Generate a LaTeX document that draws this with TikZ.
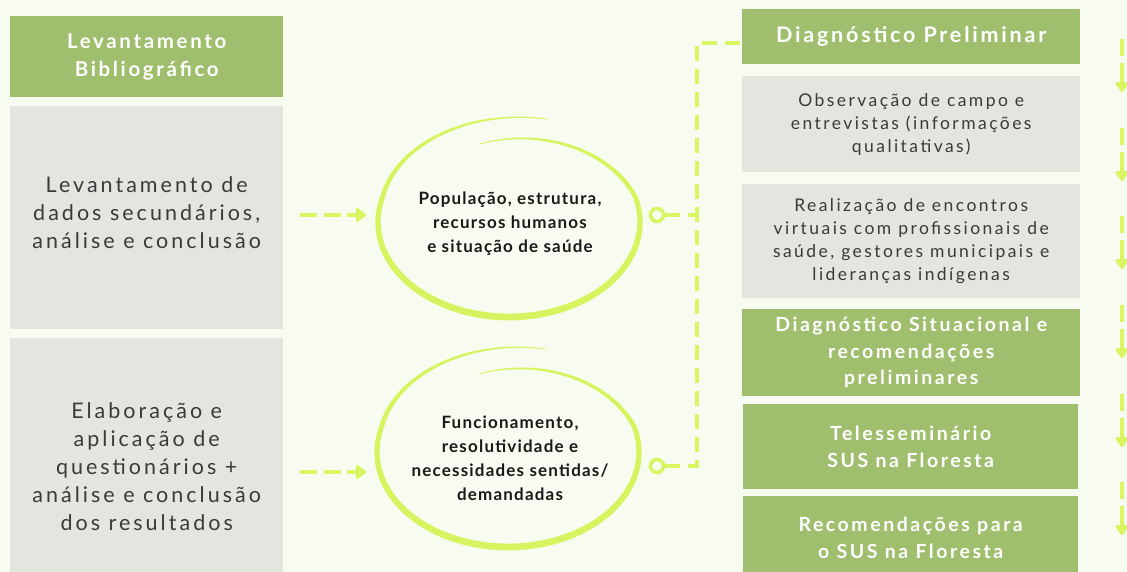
\documentclass[tikz,border=0pt]{standalone}
\usepackage{fontspec}
\setmainfont{Lato}
\newfontfamily\graytxt[LetterSpace=14]{Lato}
\newfontfamily\greentxt[LetterSpace=13]{Lato}
\newfontfamily\circtxt[LetterSpace=7]{Lato}
\usetikzlibrary{arrows.meta}
\definecolor{bgc}{RGB}{248,252,240}
\definecolor{greenc}{RGB}{160,191,110}
\definecolor{grayc}{RGB}{226,230,222}
\definecolor{limec}{RGB}{217,245,98}
\definecolor{loopc}{RGB}{214,244,96}
\definecolor{txtgray}{RGB}{58,58,58}
\definecolor{txtdark}{RGB}{25,25,25}
\tikzset{
  declare function={sf(\t)=1-0.15*max(0,1-\t/90)+0.12*max(0,(\t-300)/90); wf(\t)=0.8+6*sin(0.4615*\t);},
  greenbox/.style={fill=greenc, inner sep=0pt, align=center, anchor=north west, text=white},
  graybox/.style={fill=grayc, inner sep=0pt, align=center, anchor=north west, text=txtgray},
  lefttxt/.style={font={\graytxt\fontsize{21.5}{28}\selectfont}},
  righttxt/.style={font={\graytxt\fontsize{17.5}{23}\selectfont}},
  gtitle/.style={font={\greentxt\bfseries\fontsize{19.5}{27}\selectfont}},
  circtext/.style={align=center, text=txtdark, inner sep=0pt, font={\circtxt\bfseries\fontsize{17}{24}\selectfont}},
  ring/.style={circle, draw=limec, line width=3.6pt, minimum size=13pt, inner sep=0pt},
  dashline/.style={draw=limec, line width=4pt, dash pattern=on 15pt off 8pt},
  dasharrowleft/.style={draw=limec, line width=4pt, dash pattern=on 17pt off 7pt on 17pt off 6pt on 30pt,
     -{Triangle[length=11pt,width=16pt,round]}},
  dasharrowright/.style={draw=limec, line width=4pt, dash pattern=on 17pt off 7pt on 40pt,
     -{Triangle[length=11pt,width=15pt,round]}},
}
\newcommand\handloop[2]{%
  \fill[loopc] plot[domain=0:390,samples=180,variable=\t]
    ({#1+(131*sf(\t)+wf(\t)/2)*cos(105-\t)},{#2-(95*sf(\t)+wf(\t)/2)*sin(105-\t)})
    -- plot[domain=390:0,samples=180,variable=\t]
    ({#1+(131*sf(\t)-wf(\t)/2)*cos(105-\t)},{#2-(95*sf(\t)-wf(\t)/2)*sin(105-\t)}) -- cycle;}
\begin{document}
\begin{tikzpicture}[x=1pt,y=-1pt]
\clip (0,0) rectangle (1127,572);
\fill[bgc] (0,0) rectangle (1127,572);

% left column
\node[greenbox, font={\greentxt\bfseries\fontsize{20.5}{28}\selectfont}, minimum width=273pt, minimum height=81pt] (lb) at (10,16) {Levantamento\\Bibliográfico};
\node[graybox, lefttxt, minimum width=273pt, minimum height=212pt] (g1) at (10,106) {Levantamento de\\dados secundários,\\análise e conclusão};
\fill[grayc] (g1.south west) rectangle ([yshift=-11pt]g1.south east);
\node[graybox, lefttxt, minimum width=273pt, minimum height=256pt] (g2) at (10,338) {Elaboração e\\aplicação de\\questionários +\\análise e conclusão\\dos resultados};

% loops
\handloop{509}{222}
\handloop{508}{452}
\node[circtext] (c1) at (510,224) {População, estrutura,\\recursos humanos\\e situação de saúde};
\node[circtext] (c2) at (510,458) {Funcionamento,\\resolutividade e\\necessidades sentidas/\\demandadas};

% left arrows
\coordinate (a1s) at (300,215); \coordinate (a1e) at (366,215);
\coordinate (a2s) at (300,472); \coordinate (a2e) at (366,472);
\draw[dasharrowleft] (a1s) -- (a1e);
\draw[dasharrowleft] (a2s) -- (a2e);

% right column
\node[greenbox, font={\greentxt\bfseries\fontsize{21.5}{26}\selectfont}, minimum width=338pt, minimum height=55pt] (dp) at (742,9) {Diagnóstico Preliminar};
\node[graybox, righttxt, minimum width=338pt, minimum height=96pt] (ob) at (742,76) {Observação de campo e\\entrevistas (informações\\qualitativas)};
\node[graybox, righttxt, minimum width=338pt, minimum height=114pt] (re) at (742,184) {Realização de encontros\\virtuais com profissionais de\\saúde, gestores municipais e\\lideranças indígenas};
\node[greenbox, font={\greentxt\bfseries\fontsize{19.5}{26.5}\selectfont}, minimum width=338pt, minimum height=87pt] (ds) at (742,309) {Diagnóstico Situacional e\\recomendações\\preliminares};
\node[greenbox, gtitle, minimum width=335pt, minimum height=85pt] (ts) at (743,404) {Telesseminário\\SUS na Floresta};
\node[greenbox, gtitle, minimum width=335pt, minimum height=84pt] (rs) at (743,496) {Recomendações para\\o SUS na Floresta};

% rings and connectors
\node[ring] (r1) at (657,215) {};
\node[ring] (r2) at (657,466) {};
\coordinate (j1) at (697,215);
\coordinate (j2) at (697,466);
\coordinate (jt) at (697,43);
\draw[dashline] (r1.east) -- (j1);
\draw[dashline] (r2.east) -- (j2) -- (jt) -- (dp.west |- jt);

% right arrows
\foreach \y [count=\i] in {39,128,216,305,394,482}{
  \coordinate (ra\i s) at (1122,\y);
  \coordinate (ra\i e) at (1122,\y+53);
  \draw[dasharrowright] (ra\i s) -- (ra\i e);
}
\end{tikzpicture}
\end{document}
